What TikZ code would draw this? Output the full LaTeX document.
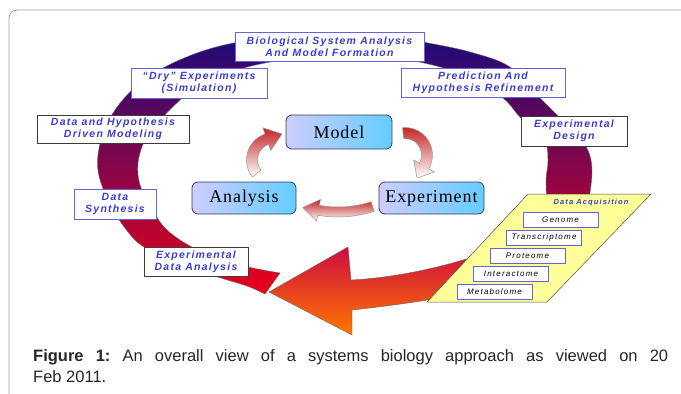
\documentclass[tikz,border=0pt]{standalone}
\usepackage{fontspec}
\setmainfont{Liberation Serif}
\setsansfont{Liberation Sans}
\newfontfamily\tagfont[LetterSpace=12]{Liberation Sans}
\newfontfamily\omicsfont[LetterSpace=15]{Liberation Sans}
\newfontfamily\stagefont[LetterSpace=5]{Liberation Serif}
\usetikzlibrary{calc}

\definecolor{tagblue}{RGB}{60,60,210}
\definecolor{tagedge}{RGB}{100,100,225}
\definecolor{darkedge}{RGB}{60,60,60}
\definecolor{ringtop}{RGB}{28,10,122}
\definecolor{ringmid}{RGB}{128,0,122}
\definecolor{ringbot}{RGB}{235,0,25}
\definecolor{headtop}{RGB}{200,0,70}
\definecolor{headbot}{RGB}{255,120,0}
\definecolor{stageleft}{RGB}{205,205,255}
\definecolor{stageright}{RGB}{100,205,255}
\definecolor{stageedge}{RGB}{60,60,90}
\definecolor{cyclered}{RGB}{195,35,35}
\definecolor{paryellow}{RGB}{255,255,153}
\definecolor{framegray}{RGB}{160,160,160}

\begin{document}
\begin{tikzpicture}[
  x=1pt, y=1pt,
  tag/.style={rectangle, draw=tagedge, fill=white, line width=0.9pt, inner sep=0pt, align=center,
    text=tagblue, font=\tagfont\fontsize{10.5}{12}\selectfont\bfseries\itshape},
  darktag/.style={tag, draw=darkedge},
  omics/.style={rectangle, draw=tagedge, fill=white, line width=0.8pt, inner sep=0pt,
    minimum width=75, minimum height=15, font=\omicsfont\fontsize{8}{9}\selectfont\itshape},
  stage/.style={rectangle, rounded corners=6, draw=stageedge, line width=0.8pt,
    left color=stageleft, right color=stageright, inner sep=0pt, font=\stagefont\fontsize{18}{20}\selectfont},
  cycle arrow/.style={draw=black!40, line width=0.5pt, top color=cyclered, bottom color=white},
  band/.style={draw=black!60, line width=0.4pt}
]
\useasboundingbox (0,0) rectangle (681,-394);
\draw[framegray, line width=0.8pt, rounded corners=8] (9,-394) -- (9,-10) -- (681,-10);

% outer cycle
\shade[band, top color=ringtop, middle color=ringmid, bottom color=ringbot]
  plot[smooth, tension=0.6] coordinates {(265,-294) (247,-286) (215,-276) (180,-262) (144,-247)
    (125,-228) (108,-200) (98,-170) (101,-140) (115,-110) (140,-83) (175,-62) (220,-46) (275,-37)
    (335,-34) (395,-37) (423,-42) (470,-52) (510,-67) (540,-98) (560,-118) (585,-145) (592,-170) (588,-205)}
  -- plot[smooth, tension=0.6] coordinates {(547,-205) (546,-180) (548,-160) (544,-140) (520,-117)
    (503,-98) (470,-77) (424,-63) (380,-57) (340,-56) (300,-58) (260,-64) (225,-74) (195,-88)
    (180,-100) (160,-120) (145,-140) (138,-163) (140,-185) (150,-205) (165,-228) (190,-246)
    (220,-259) (248,-267) (280,-273)}
  -- cycle;
\shade[band, top color=headtop, middle color=red, bottom color=headbot]
  (269,-292) -- (348,-247) -- (351,-280) .. controls (390,-278) and (430,-270) .. (470,-258)
  -- (520,-238) -- (495,-290) -- (440,-298) .. controls (410,-303) and (380,-307) .. (352,-310)
  -- (352,-335) -- cycle;

% data acquisition
\draw[fill=paryellow, draw=black!70, line width=0.5pt] (528,-194) -- (651,-194) -- (547,-302) -- (427,-302) -- cycle;
\node[text=tagblue, font=\omicsfont\fontsize{7.5}{9}\selectfont\bfseries\itshape] (acq) at (591,-203) {Data Acquisition};
\node[omics] (genome) at (560.5,-219.5) {Genome};
\node[omics] (transcriptome) at (544,-237.5) {Transcriptome};
\node[omics] (proteome) at (527.5,-255.5) {Proteome};
\node[omics] (interactome) at (511,-273.5) {Interactome};
\node[omics] (metabolome) at (494.5,-291.5) {Metabolome};

% steps round the cycle
\node[tag, minimum width=189, minimum height=29] (bio) at (329.5,-46.5) {Biological System Analysis\\And Model Formation};
\node[tag, minimum width=136, minimum height=30] (dry) at (199,-83) {“Dry” Experiments\\(Simulation)};
\node[tag, minimum width=164, minimum height=29] (pred) at (483,-82.5) {Prediction And\\Hypothesis Refinement};
\node[darktag, minimum width=106, minimum height=30] (design) at (574,-131) {Experimental\\Design};
\node[darktag, minimum width=152, minimum height=28] (hypo) at (113,-129) {Data and Hypothesis\\Driven Modeling};
\node[tag, minimum width=82, minimum height=30] (synth) at (115,-204) {Data\\Synthesis};
\node[darktag, minimum width=104, minimum height=29] (exda) at (196,-261.5) {Experimental\\Data Analysis};

% inner cycle
\begin{scope}[shift={(274,-160)}]
  \shade[cycle arrow] (218:27.5) arc[start angle=218, end angle=109, radius=27.5] -- (109:34)
    -- ($(109:22)+(19:16)$) -- (109:10) -- (109:16.5) arc[start angle=109, end angle=218, radius=16.5] -- cycle;
\end{scope}
\begin{scope}[shift={(405,-155)}]
  \shade[cycle arrow] (95:27.5) arc[start angle=95, end angle=-30, radius=27.5] -- (-30:34)
    -- ($(-30:22)+(-120:14)$) -- (-30:10) -- (-30:16.5) arc[start angle=-30, end angle=95, radius=16.5] -- cycle;
\end{scope}
\begin{scope}[shift={(338,-100)}]
  \shade[cycle arrow] (-72:117) arc[start angle=-72, end angle=-100, radius=117] -- (-100:123)
    -- ($(-100:112)+(170:16)$) -- (-100:101) -- (-100:107) arc[start angle=-100, end angle=-72, radius=107] -- cycle;
\end{scope}
\node[stage, minimum width=106, minimum height=34] (model) at (339,-132) {Model};
\node[stage, minimum width=104, minimum height=32] (analysis) at (244,-198) {Analysis};
\node[stage, minimum width=105, minimum height=32] (experiment) at (431.5,-198) {Experiment};

\node[anchor=north west, text width=635, align=justify, inner sep=0pt, text=black!85,
  font=\sffamily\fontsize{16.5}{21}\selectfont\frenchspacing] (caption) at (33,-349)
  {\textbf{Figure 1:} An overall view of a systems biology approach as viewed on 20\linebreak Feb 2011.};
\end{tikzpicture}
\end{document}
